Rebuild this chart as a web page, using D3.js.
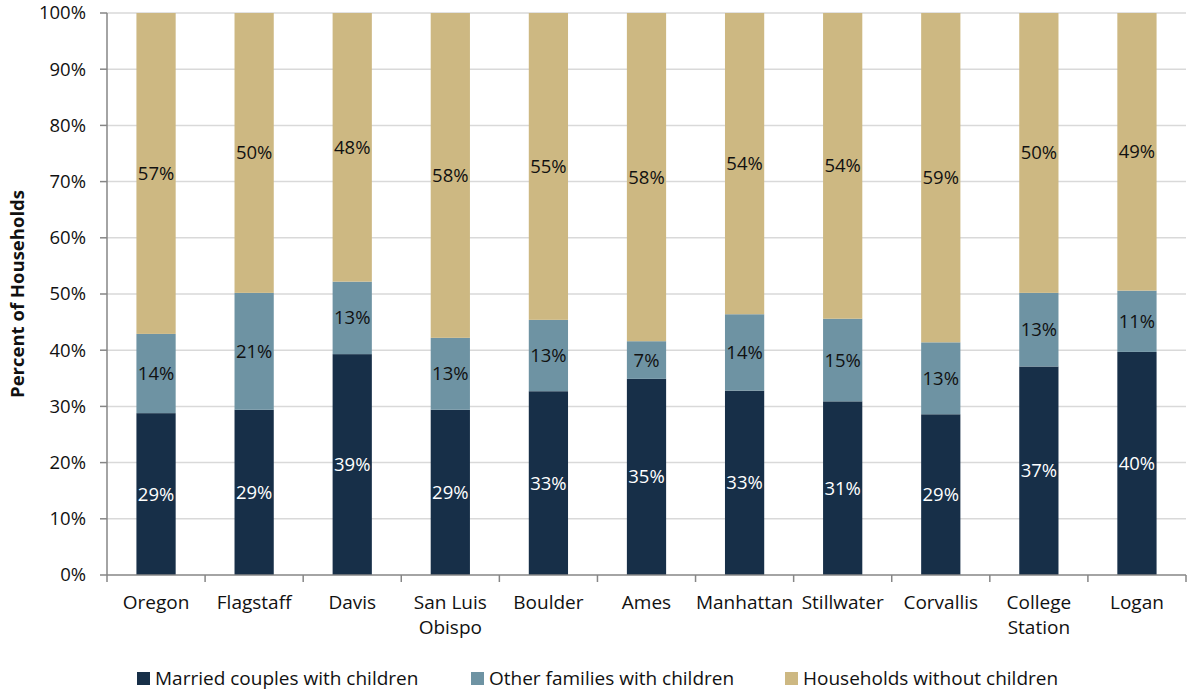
<!DOCTYPE html>
<html>
<head>
<meta charset="utf-8">
<script src="https://cdn.jsdelivr.net/npm/d3@7"></script>
<style>
  body { margin: 0; background: #fff; }
  svg { display: block; font-family: "Open Sans", "Noto Sans", sans-serif; }
</style>
</head>
<body>
<svg id="chart" width="1191" height="694"></svg>
<script>
// Household composition by college town (share of all households)
const categories = ["Oregon", "Flagstaff", "Davis", "San Luis\nObispo", "Boulder", "Ames",
                    "Manhattan", "Stillwater", "Corvallis", "College\nStation", "Logan"];
const married = [28.8, 29.4, 39.3, 29.4, 32.7, 34.9, 32.8, 30.9, 28.6, 37.1, 39.7];
const otherFamilies = [14.1, 20.8, 12.9, 12.8, 12.7, 6.7, 13.6, 14.7, 12.8, 13.1, 10.9];
const noChildren = [57.1, 49.8, 47.8, 57.8, 54.6, 58.4, 53.6, 54.4, 58.6, 49.8, 49.4];
const seriesNames = ["Married couples with children", "Other families with children", "Households without children"];
const seriesColors = ["#172f48", "#6e93a3", "#cdb882"];
const labelColors = ["#ffffff", "#111111", "#111111"];
const yTicks = [0, 10, 20, 30, 40, 50, 60, 70, 80, 90, 100];

const svg = d3.select("#chart");
const margin = { left: 107, right: 5, top: 13, bottom: 119 };
const W = 1191, H = 694;
const x0 = margin.left, x1 = W - margin.right;
const y0 = H - margin.bottom, y1 = margin.top;

const x = d3.scaleBand().domain(categories).range([x0, x1]).paddingInner(0.6).paddingOuter(0.3);
const y = d3.scaleLinear().domain([0, 100]).range([y0, y1]);

// gridlines
svg.append("g").selectAll("line").data(yTicks.filter(d => d > 0)).join("line")
  .attr("x1", x0).attr("x2", x1)
  .attr("y1", d => y(d)).attr("y2", d => y(d))
  .attr("stroke", "#d9d9d9").attr("stroke-width", 1.5);

// stacked bars
const rows = categories.map((c, i) => ({ cat: c, s0: married[i], s1: otherFamilies[i], s2: noChildren[i] }));
const stack = d3.stack().keys(["s0", "s1", "s2"]);
const layers = stack(rows);

const gBars = svg.append("g");
layers.forEach((layer, li) => {
  gBars.append("g").selectAll("rect").data(layer).join("rect")
    .attr("x", d => x(d.data.cat))
    .attr("width", x.bandwidth())
    .attr("y", d => y(d[1]))
    .attr("height", d => y(d[0]) - y(d[1]))
    .attr("fill", seriesColors[li]);
});

// value labels
layers.forEach((layer, li) => {
  svg.append("g").selectAll("text").data(layer).join("text")
    .attr("x", d => x(d.data.cat) + x.bandwidth() / 2)
    .attr("y", d => (y(d[0]) + y(d[1])) / 2)
    .attr("dy", "0.35em")
    .attr("text-anchor", "middle")
    .attr("font-size", 18.5)
    .attr("fill", labelColors[li])
    .text(d => Math.round(d[1] - d[0]) + "%");
});

// y axis
const yAxis = svg.append("g");
yAxis.append("line").attr("x1", x0).attr("x2", x0).attr("y1", y1).attr("y2", y0)
  .attr("stroke", "#868686").attr("stroke-width", 1.5);
yAxis.selectAll("line.tick").data(yTicks).join("line").attr("class", "tick")
  .attr("x1", x0 - 7).attr("x2", x0).attr("y1", d => y(d)).attr("y2", d => y(d))
  .attr("stroke", "#868686").attr("stroke-width", 1.5);
yAxis.selectAll("text").data(yTicks).join("text")
  .attr("x", x0 - 21).attr("y", d => y(d)).attr("dy", "0.35em")
  .attr("text-anchor", "end").attr("font-size", 18.5).attr("fill", "#111")
  .text(d => d + "%");

// x axis
const xAxis = svg.append("g");
xAxis.append("line").attr("x1", x0).attr("x2", x1).attr("y1", y0).attr("y2", y0)
  .attr("stroke", "#868686").attr("stroke-width", 1.5);
const step = x.step();
const boundaries = d3.range(categories.length + 1).map(i => x0 + i * step);
xAxis.selectAll("line.tick").data(boundaries).join("line").attr("class", "tick")
  .attr("x1", d => d).attr("x2", d => d).attr("y1", y0).attr("y2", y0 + 7)
  .attr("stroke", "#868686").attr("stroke-width", 1.5);
const catLabels = xAxis.selectAll("text").data(categories).join("text")
  .attr("x", d => x(d) + x.bandwidth() / 2)
  .attr("y", y0 + 34)
  .attr("text-anchor", "middle").attr("font-size", 19).attr("fill", "#111");
catLabels.each(function(d) {
  const t = d3.select(this);
  d.split("\n").forEach((line, i) => {
    t.append("tspan").attr("x", x(d) + x.bandwidth() / 2).attr("dy", i === 0 ? 0 : 25).text(line);
  });
});

// y axis title
svg.append("text")
  .attr("transform", `translate(24,${(y0 + y1) / 2}) rotate(-90)`)
  .attr("text-anchor", "middle").attr("font-size", 18.5).attr("font-weight", "bold").attr("fill", "#111")
  .text("Percent of Households");

// legend
const legendX = [137, 471, 785];
const legend = svg.append("g").selectAll("g").data(seriesNames).join("g")
  .attr("transform", (d, i) => `translate(${legendX[i]},${678})`);
legend.append("rect").attr("x", 0).attr("y", -6).attr("width", 13).attr("height", 13)
  .attr("fill", (d, i) => seriesColors[i]);
legend.append("text").attr("x", 18).attr("dy", "0.35em").attr("font-size", 19).attr("fill", "#111")
  .text(d => d);
</script>
</body>
</html>
